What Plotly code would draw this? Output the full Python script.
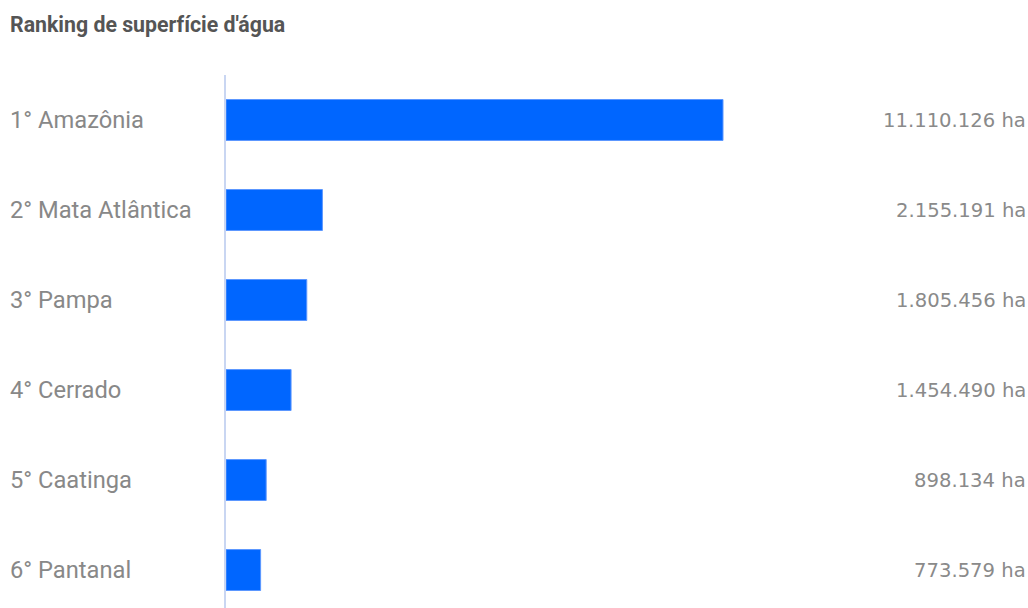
import plotly.graph_objects as go

categories = ["1° Amazônia", "2° Mata Atlântica", "3° Pampa", "4° Cerrado", "5° Caatinga", "6° Pantanal"]
values = [11110126, 2155191, 1805456, 1454490, 898134, 773579]
value_labels = ["11.110.126 ha", "2.155.191 ha", "1.805.456 ha", "1.454.490 ha", "898.134 ha", "773.579 ha"]
title_text = "Ranking de superfície d'água"

W, H = 1028, 608
ML, MR, MT, MB = 226, 2, 75, 0
plot_w = W - ML - MR

fig = go.Figure()
fig.add_trace(go.Bar(
    x=values, y=categories, orientation="h",
    marker=dict(color="#0066FF", line=dict(color="#5c97ff", width=1)),
    width=0.455, hoverinfo="skip",
))

annotations = []
for cat in categories:
    annotations.append(dict(
        x=(8 - ML) / plot_w, xref="paper", y=cat, yref="y",
        text=cat, showarrow=False, xanchor="left", yanchor="middle",
        font=dict(family="Roboto", size=23.7, color="#888888"),
    ))
for cat, lab in zip(categories, value_labels):
    annotations.append(dict(
        x=1, xref="paper", y=cat, yref="y", xshift=2,
        text=lab, showarrow=False, xanchor="right", yanchor="middle",
        font=dict(family="DejaVu Sans", size=19.6, color="#8a8a8a"),
    ))

fig.update_layout(
    width=W, height=H,
    margin=dict(l=ML, r=MR, t=MT, b=MB, pad=0),
    paper_bgcolor="white", plot_bgcolor="white",
    showlegend=False,
    title=dict(text="<b>" + title_text + "</b>", x=10 / W, xanchor="left", xref="container",
               y=1 - 25 / H, yanchor="middle", yref="container",
               font=dict(family="Roboto", size=21.3, color="#555555")),
    xaxis=dict(range=[0, values[0] * plot_w / 497], showgrid=False, zeroline=False,
               showticklabels=False, showline=False, fixedrange=True),
    yaxis=dict(range=[5.422, -0.5], showgrid=False, zeroline=False, showticklabels=False,
               showline=True, linecolor="#c9d6f2", linewidth=1.5, ticks="", fixedrange=True),
    annotations=annotations,
)

fig.write_html("out.html")
